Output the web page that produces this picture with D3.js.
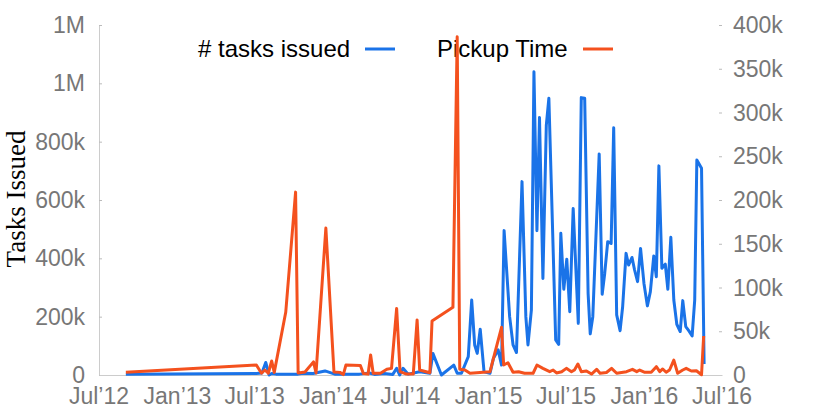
<!DOCTYPE html>
<html>
<head>
<meta charset="utf-8">
<script src="https://cdn.jsdelivr.net/npm/d3@7"></script>
<style>
  html, body { margin: 0; padding: 0; background: #fff; }
  svg { display: block; }
</style>
</head>
<body>
<svg id="chart" width="830" height="415"></svg>
<script>
// ---------- data ----------
const taskDates = ["2012-09-02","2013-07-05","2013-07-18","2013-07-27","2013-08-04","2013-08-10","2013-08-20","2013-10-11","2013-10-23","2013-11-15","2013-12-13","2014-01-05","2014-03-04","2014-03-27","2014-04-08","2014-05-01","2014-05-21","2014-05-30","2014-06-06","2014-06-14","2014-06-26","2014-07-23","2014-08-16","2014-08-23","2014-09-12","2014-10-11","2014-10-19","2014-10-29","2014-11-14","2014-11-22","2014-11-29","2014-12-05","2014-12-12","2014-12-21","2015-01-04","2015-01-12","2015-01-23","2015-01-31","2015-02-06","2015-02-19","2015-02-27","2015-03-07","2015-03-20","2015-03-29","2015-04-03","2015-04-11","2015-04-17","2015-04-24","2015-04-30","2015-05-08","2015-05-16","2015-05-22","2015-06-07","2015-06-14","2015-06-19","2015-06-26","2015-07-03","2015-07-10","2015-07-18","2015-07-30","2015-08-06","2015-08-14","2015-08-22","2015-08-27","2015-09-02","2015-09-17","2015-09-24","2015-09-30","2015-10-07","2015-10-15","2015-10-21","2015-10-28","2015-11-05","2015-11-11","2015-11-19","2015-11-25","2015-12-03","2015-12-09","2015-12-16","2015-12-23","2015-12-31","2016-01-08","2016-01-15","2016-01-23","2016-01-29","2016-02-04","2016-02-11","2016-02-19","2016-02-25","2016-03-03","2016-03-10","2016-03-17","2016-03-25","2016-03-31","2016-04-07","2016-04-14","2016-04-22","2016-04-28","2016-05-03","2016-05-14","2016-05-20"];
const taskValues = [3000,5000,7000,43000,0,5000,3000,3000,6000,5000,14000,3000,3000,7000,2000,5000,2000,23000,0,23000,3000,11000,6000,74000,0,34000,6000,6000,63000,257000,103000,74000,157000,11000,6000,57000,86000,34000,495000,200000,103000,77000,663000,200000,103000,223000,1040000,495000,883000,331000,857000,949000,120000,105000,486000,294000,397000,217000,571000,177000,951000,949000,280000,141000,200000,758000,277000,349000,457000,451000,848000,206000,152000,234000,417000,377000,403000,360000,320000,434000,314000,237000,286000,408000,337000,717000,366000,380000,294000,472000,257000,174000,149000,255000,166000,152000,134000,257000,737000,709000,38000];

const pickupDates = ["2012-09-02","2013-07-05","2013-07-17","2013-07-25","2013-08-02","2013-08-10","2013-08-16","2013-09-12","2013-10-05","2013-10-11","2013-10-27","2013-11-16","2013-11-22","2013-12-15","2014-01-03","2014-01-17","2014-01-25","2014-01-31","2014-03-06","2014-03-13","2014-03-24","2014-03-30","2014-04-05","2014-04-22","2014-05-07","2014-05-18","2014-05-30","2014-06-07","2014-06-22","2014-07-08","2014-07-17","2014-07-23","2014-08-16","2014-08-21","2014-10-09","2014-10-19","2014-10-25","2014-11-06","2014-11-18","2015-01-04","2015-01-15","2015-01-31","2015-02-05","2015-02-15","2015-02-27","2015-03-12","2015-03-26","2015-04-15","2015-04-24","2015-05-08","2015-05-24","2015-06-01","2015-06-09","2015-06-21","2015-07-02","2015-07-14","2015-07-21","2015-07-29","2015-08-06","2015-08-18","2015-08-30","2015-09-11","2015-09-19","2015-10-04","2015-10-16","2015-10-28","2015-11-20","2015-12-04","2015-12-14","2015-12-21","2016-01-02","2016-01-17","2016-01-29","2016-02-06","2016-02-13","2016-02-21","2016-02-29","2016-03-10","2016-03-19","2016-03-31","2016-04-08","2016-04-20","2016-05-02","2016-05-14","2016-05-19"];
const pickupValues = [3100,11400,2000,5700,2000,16000,3000,72000,209000,2300,3400,15000,2300,168000,3400,3000,500,11400,10800,1700,1000,22900,2000,2000,6500,7600,76000,3800,1100,1100,62900,5700,2600,61700,77300,386600,6500,5700,2000,3800,24800,54500,11400,14000,3100,3800,2000,2000,11400,7600,3800,5700,2300,3800,7600,3800,5700,12600,3800,4600,1100,6500,2000,2900,7600,2000,3800,6500,3800,5700,3100,3100,9500,3800,6900,3100,5700,17000,2000,5700,7600,4600,4900,300,44600];

const leftTickValues = [0,200000,400000,600000,800000,1000000,1200000];
const leftTickLabels = ["0","200k","400k","600k","800k","1M","1M"];
const rightTickValues = [0,50000,100000,150000,200000,250000,300000,350000,400000];
const rightTickLabels = ["0","50k","100k","150k","200k","250k","300k","350k","400k"];
const xTickDates = ["2012-07-01","2013-01-01","2013-07-01","2014-01-01","2014-07-01","2015-01-01","2015-07-01","2016-01-01","2016-07-01"];
const xTickLabels = ["Jul\u201912","Jan\u201913","Jul\u201913","Jan\u201914","Jul\u201914","Jan\u201915","Jul\u201915","Jan\u201916","Jul\u201916"];
const seriesNames = ["# tasks issued","Pickup Time"];
const yTitle = "Tasks Issued";

// ---------- layout ----------
const parse = d3.utcParse("%Y-%m-%d");
const L = 99, R = 722, T = 25, B = 375;
const blue = "#1a73e8", orange = "#f4511e";
const font = "'Liberation Sans', Arial, Helvetica, sans-serif";
const tickColor = "#777";
const tickSize = 23;

const svg = d3.select("#chart");
const x = d3.scaleUtc().domain([parse("2012-07-01"), parse("2016-07-01")]).range([L, R]);
const yL = d3.scaleLinear().domain([0, 1200000]).range([B, T]);
const yR = d3.scaleLinear().domain([0, 400000]).range([B, T]);

// axes
const gL = svg.append("g").attr("transform", `translate(${L},0)`)
  .call(d3.axisRight(yL).tickValues(leftTickValues).tickFormat("").tickSize(3));
gL.select(".domain").attr("stroke", "#ccc");
gL.selectAll(".tick line").attr("stroke", "#bbb");

svg.append("g").selectAll("text").data(leftTickValues).join("text")
  .attr("x", 85).attr("y", d => yL(d)).attr("dy", "0.35em")
  .attr("text-anchor", "end").attr("font-family", font).attr("font-size", tickSize)
  .attr("fill", tickColor).text((d, i) => leftTickLabels[i]);

const gR = svg.append("g").attr("transform", `translate(${R},0)`)
  .call(d3.axisLeft(yR).tickValues(rightTickValues).tickFormat("").tickSize(3));
gR.select(".domain").remove();
gR.selectAll(".tick line").attr("stroke", "#bbb");

svg.append("g").selectAll("text").data(rightTickValues).join("text")
  .attr("x", 733).attr("y", d => yR(d)).attr("dy", "0.35em")
  .attr("text-anchor", "start").attr("font-family", font).attr("font-size", tickSize)
  .attr("fill", tickColor).text((d, i) => rightTickLabels[i]);

const gB = svg.append("g").attr("transform", `translate(0,${B})`)
  .call(d3.axisBottom(x).tickValues(xTickDates.map(parse)).tickFormat("").tickSize(0));
gB.select(".domain").attr("stroke", "#ccc");

svg.append("g").selectAll("text").data(xTickDates).join("text")
  .attr("x", d => x(parse(d))).attr("y", 404)
  .attr("text-anchor", "middle").attr("font-family", font).attr("font-size", tickSize)
  .attr("fill", tickColor).text((d, i) => xTickLabels[i]);

// y title
svg.append("text").attr("transform", "translate(25,199) rotate(-90)")
  .attr("text-anchor", "middle").attr("font-family", "'Liberation Serif', 'Times New Roman', serif")
  .attr("font-size", 27).attr("fill", "#000").text(yTitle);

// legend
const legend = [
  {name: seriesNames[0], color: blue, tx: 198, lx: 365},
  {name: seriesNames[1], color: orange, tx: 437, lx: 583}
];
legend.forEach(l => {
  svg.append("text").attr("x", l.tx).attr("y", 57).attr("font-family", font)
    .attr("font-size", 24).attr("fill", "#000").text(l.name);
  svg.append("line").attr("x1", l.lx).attr("x2", l.lx + 30).attr("y1", 49).attr("y2", 49)
    .attr("stroke", l.color).attr("stroke-width", 3);
});

// lines
const taskData = taskDates.map((d, i) => ({d: parse(d), v: taskValues[i]}));
const pickData = pickupDates.map((d, i) => ({d: parse(d), v: pickupValues[i]}));

svg.append("path").datum(taskData)
  .attr("fill", "none").attr("stroke", blue).attr("stroke-width", 3).attr("stroke-linejoin", "round")
  .attr("d", d3.line().x(p => x(p.d)).y(p => yL(p.v)));
svg.append("path").datum(pickData)
  .attr("fill", "none").attr("stroke", orange).attr("stroke-width", 3).attr("stroke-linejoin", "round")
  .attr("d", d3.line().x(p => x(p.d)).y(p => yR(p.v)));
</script>
</body>
</html>
